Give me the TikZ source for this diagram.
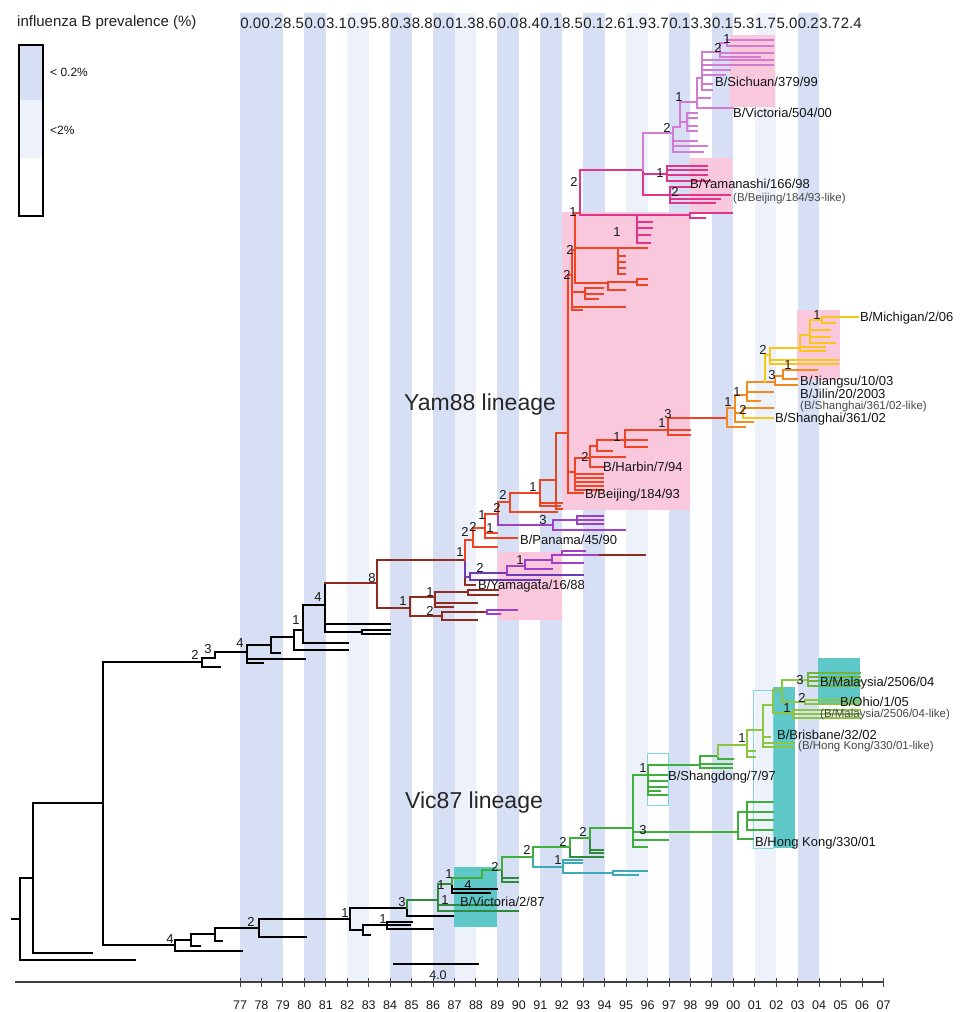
\documentclass[tikz,border=0pt]{standalone}
\usepackage{fontspec}
\setmainfont{Liberation Sans}
\definecolor{bandA}{HTML}{D6DFF3}
\definecolor{bandB}{HTML}{EDF1FA}
\definecolor{pinkbox}{HTML}{F9C8DD}
\definecolor{tealbox}{HTML}{5EC8C8}
\definecolor{tealline}{HTML}{7FD6DA}
\definecolor{brn}{HTML}{8E2A1E}
\definecolor{redo}{HTML}{EE4422}
\definecolor{mag}{HTML}{E0358C}
\definecolor{orch}{HTML}{D27BD0}
\definecolor{purp}{HTML}{A040C8}
\definecolor{viol}{HTML}{6A3CB8}
\definecolor{orng}{HTML}{F28A1E}
\definecolor{yelw}{HTML}{F6C619}
\definecolor{dgrn}{HTML}{2E8B3C}
\definecolor{mgrn}{HTML}{3FAF3C}
\definecolor{lgrn}{HTML}{8CC63F}
\definecolor{tealb}{HTML}{3DAAB5}
\tikzset{
  tb/.style={line width=2pt, line cap=rect},
  bs/.style={font=\fontsize{13}{13}\selectfont, text=black!90, inner sep=0pt},
  lbl/.style={font=\fontsize{13}{13}\selectfont, text=black!92, anchor=west, inner sep=0pt},
  sml/.style={font=\fontsize{11.5}{12}\selectfont, text=black!72, anchor=west, inner sep=0pt},
  yr/.style={font=\fontsize{12.5}{13}\selectfont, text=black!90, inner sep=0pt},
  prev/.style={font=\fontsize{15}{15}\selectfont, text=black!88, inner sep=0pt},
  lin/.style={font=\fontsize{23}{23}\selectfont, text=black!85, anchor=west, inner sep=0pt},
}
\newcommand\leaves[3]{\foreach \a/\b in {#3} {\draw[tb,#1] (#2) |- (\a,\b);}}
\begin{document}
\begin{tikzpicture}[x=1pt,y=-1pt]
\useasboundingbox (0,0) rectangle (967,1012);
% prevalence bands
\foreach \i in {0,1,3,7,9,12,14,16,20,22,26}
  \fill[bandA] ({240+21.45*\i},13) rectangle ++(21.45,969);
\foreach \i in {5,10,18,24}
  \fill[bandB] ({240+21.45*\i},13) rectangle ++(21.45,969);
\foreach \v [count=\i from 0] in {0.0,0.2,8.5,0.0,3.1,0.9,5.8,0.3,8.8,0.0,1.3,8.6,0.0,8.4,0.1,8.5,0.1,2.6,1.9,3.7,0.1,3.3,0.1,5.3,1.7,5.0,0.2,3.7,2.4}
  \node[prev] (p\i) at ({250.7+21.45*\i},23) {\v};
% legend
\node[prev, anchor=west] (legtitle) at (17,23) {influenza B prevalence (\%)};
\fill[bandA] (19,45) rectangle (43,100);
\fill[bandB] (19,100) rectangle (43,158);
\draw[line width=1.6pt] (19,45) rectangle (43,216);
\node[lbl, font=\fontsize{12}{12}\selectfont] (lega) at (50,72) {< 0.2\%};
\node[lbl, font=\fontsize{12}{12}\selectfont] (legb) at (50,130) {<2\%};
% clade boxes
\fill[pinkbox] (730,35) rectangle (775,107);
\fill[pinkbox] (690,158) rectangle (732,212);
\fill[pinkbox] (562,212) rectangle (690,510);
\fill[pinkbox] (797,310) rectangle (840,380);
\fill[pinkbox] (498,552) rectangle (562,620);
\fill[tealbox] (818,658) rectangle (860,703);
\fill[tealbox] (773,687) rectangle (795,848);
\fill[tealbox] (454,867) rectangle (497,927);
\draw[tealline, line width=0.8pt] (753,690) rectangle (773,848);
\draw[tealline, line width=0.8pt] (647,753) rectangle (668,805);
% root
\coordinate (root) at (20,919);
\draw[tb,black,line width=2.3pt] (12,919) -- (root);
\draw[tb,black,line width=2.3pt] (root) |- (135,960);
\draw[tb,black,line width=2.3pt] (root) |- (33,878) coordinate (r2);
\draw[tb,black,line width=2.3pt] (r2) |- (92,953);
\draw[tb,black,line width=2.3pt] (r2) |- (103,803) coordinate (r3);
\draw[tb,black,line width=2.3pt] (r3) |- (202,662) coordinate (y0);
\draw[tb,black,line width=2.3pt] (r3) |- (175,945) coordinate (v0);
% Vic87 lineage
\draw[tb,black] (v0) |- (242,951);
\draw[tb,black] (v0) |- (191,940) coordinate (v1);
\draw[tb,black] (v1) |- (200,946);
\draw[tb,black] (v1) |- (215,934) coordinate (v2);
\draw[tb,black] (v2) |- (222,941);
\draw[tb,black] (v2) |- (259,928) coordinate (v3);
\draw[tb,black] (v3) |- (306,937);
\draw[tb,black] (v3) |- (350,919) coordinate (v4);
\draw[tb,black] (v4) |- (407,908) coordinate (v5);
\draw[tb,black] (v4) |- (363,930) coordinate (v6);
\draw[tb,black] (v6) |- (370,935);
\draw[tb,black] (v6) |- (387,925) coordinate (v7);
\leaves{black}{v7}{433/929, 412/922, 410/925}
\draw[tb,black] (v5) |- (453,916);
\draw[tb,dgrn] (v5) |- (438,900) coordinate (g1);
\leaves{dgrn}{g1}{497/905, 518/911}
\draw[tb,dgrn] (g1) |- (452,884) coordinate (g2);
\leaves{black}{g2}{497/889, 490/893}
\draw[tb,mgrn] (g2) |- (482,878) coordinate (g3);
\draw[tb,mgrn] (g3) |- (502,870) coordinate (g4);
\leaves{dgrn}{g4}{518/878, 518/882}
\draw[tb,mgrn] (g4) |- (533,857) coordinate (g5);
\draw[tb,tealb] (g5) |- (563,867) coordinate (t1);
\leaves{tealb}{t1}{582/860, 582/863}
\draw[tb,tealb] (t1) |- (613,873) coordinate (t2);
\leaves{tealb}{t2}{647/871, 638/875}
\draw[tb,mgrn] (g5) |- (570,847) coordinate (g6);
\draw[tb,dgrn] (g6) |- (603,857);
\draw[tb,mgrn] (g6) |- (590,838) coordinate (g7);
\leaves{dgrn}{g7}{603/850, 603/853}
\draw[tb,mgrn] (g7) |- (633,828) coordinate (g8);
\leaves{mgrn}{g8}{668/840, 647/847}
\draw[tb,mgrn] (g8) |- (648,775) coordinate (sd);
\leaves{mgrn}{sd}{667/775, 667/781, 667/787, 660/791, 667/795}
\draw[tb,mgrn] (sd) |- (700,765) coordinate (s1);
\leaves{mgrn}{s1}{732/768, 732/764}
\draw[tb,mgrn] (s1) |- (718,756) coordinate (s2);
\leaves{mgrn}{s2}{733/759}
\draw[tb,lgrn] (s2) |- (747,745) coordinate (s3);
\leaves{lgrn}{s3}{755/751, 755/757}
\draw[tb,lgrn] (s3) |- (763,730) coordinate (s4);
\leaves{lgrn}{s4}{770/737, 793/743, 793/747}
\draw[tb,lgrn] (s4) |- (773,705) coordinate (s5);
\draw[tb,lgrn] (s5) |- (793,713) coordinate (s7);
\leaves{lgrn}{s7}{860/710, 860/714, 860/718}
\draw[tb,lgrn] (s5) |- (782,690) coordinate (s6);
\draw[tb,lgrn] (s6) |- (805,702) coordinate (s9);
\leaves{lgrn}{s9}{860/700, 860/704}
\draw[tb,lgrn] (s6) |- (808,680) coordinate (s8);
\leaves{lgrn!70!dgrn}{s8}{860/673, 860/677, 860/681, 860/686}
\draw[tb,mgrn] (g8) |- (738,832) coordinate (hk);
\draw[tb,mgrn] (hk) |- (753,839);
\draw[tb,mgrn] (hk) |- (747,812) coordinate (h1);
\leaves{mgrn}{h1}{773/802, 773/812, 773/820, 773/830}
% Yam88 lineage
\draw[tb,black] (y0) |- (220,667);
\draw[tb,black] (y0) |- (215,658) coordinate (y1);
\draw[tb,black] (y1) |- (247,652) coordinate (y2);
\leaves{black}{y2}{263/663, 305/659}
\draw[tb,black] (y2) |- (271,645) coordinate (y3);
\draw[tb,black] (y3) |- (280,653);
\draw[tb,black] (y3) |- (294,637) coordinate (y4);
\draw[tb,black] (y4) |- (348,650);
\draw[tb,black] (y4) |- (303,630) coordinate (y5);
\draw[tb,black] (y5) |- (348,643);
\draw[tb,black] (y5) |- (325,605) coordinate (y6);
\draw[tb,black] (y6) |- (390,624);
\draw[tb,black] (y6) |- (362,632) coordinate (y7);
\leaves{black}{y7}{390/630, 390/634}
\draw[tb,black] (y6) |- (325,583) coordinate (y6t);
\draw[tb,brn] (y6t) -- (377,583) coordinate (yb);
\draw[tb,brn] (yb) |- (410,608) coordinate (yl);
\draw[tb,brn] (yl) |- (435,597) coordinate (yl1);
\leaves{brn}{yl1}{477/603, 453/607}
\draw[tb,brn] (yl1) |- (468,592) coordinate (yl3);
\leaves{brn}{yl3}{498/590, 498/595}
\draw[tb,brn] (yl) |- (442,616) coordinate (yl2);
\leaves{brn}{yl2}{477/620}
\draw[tb,brn] (yl2) |- (487,612) coordinate (yl4);
\leaves{purp}{yl4}{517/610, 500/614}
\draw[tb,brn] (yb) |- (465,560) coordinate (yu);
\draw[tb,brn] (yu) |- (475,585);
\draw[tb,viol] (yu) |- (470,577) coordinate (yv);
\leaves{viol}{yv}{540/580}
\draw[tb,viol] (yv) |- (507,573) coordinate (yv1);
\leaves{viol}{yv1}{583/575}
\draw[tb,purp] (yv1) |- (525,566) coordinate (yv2);
\leaves{purp}{yv2}{552/569}
\draw[tb,purp] (yv2) |- (552,560) coordinate (yv3);
\leaves{purp}{yv3}{583/563}
\draw[tb,purp] (yv3) |- (562,555) coordinate (yv4);
\leaves{purp}{yv4}{600/555, 585/551}
\draw[tb,brn] (600,555) -- (645,555);
\draw[tb,redo] (yu) |- (473,540) coordinate (yr0);
\leaves{redo}{yr0}{497/547}
\draw[tb,redo] (yr0) |- (485,528) coordinate (yr1);
\leaves{redo}{yr1}{517/538, 497/533}
\draw[tb,redo] (yr1) |- (498,514) coordinate (yr2);
\draw[tb,purp] (yr2) |- (553,525) coordinate (yp);
\leaves{purp}{yp}{625/530}
\draw[tb,purp] (yp) |- (577,520) coordinate (yp1);
\leaves{purp}{yp1}{603/516, 603/520, 603/524}
\draw[tb,redo] (yr2) |- (510,502) coordinate (yr3);
\leaves{redo}{yr3}{557/512}
\draw[tb,redo] (yr3) |- (540,493) coordinate (yr4);
\leaves{redo}{yr4}{562/503, 560/506}
\draw[tb,redo] (yr4) |- (556,480) coordinate (yr5);
\leaves{redo}{yr5}{562/509}
\draw[tb,redo] (yr5) |- (568,433) coordinate (nA);
\leaves{redo}{nA}{583/493}
\draw[tb,redo] (nA) |- (575,472) coordinate (nH);
\leaves{redo}{nH}{603/474, 603/478, 603/482, 603/486, 603/490}
\draw[tb,redo] (nH) |- (590,458) coordinate (nH1);
\leaves{redo}{nH1}{603/467, 625/457}
\draw[tb,redo] (nH1) |- (597,446) coordinate (nH2);
\leaves{redo}{nH2}{612/451}
\draw[tb,redo] (nH2) |- (625,440) coordinate (nH3);
\leaves{redo}{nH3}{647/440, 647/447}
\draw[tb,redo] (nH3) |- (668,430) coordinate (nH4);
\leaves{redo}{nH4}{690/430, 690/435}
\draw[tb,redo] (nH4) |- (727,418) coordinate (sh0);
\leaves{orng}{sh0}{745/427}
\draw[tb,orng] (sh0) |- (735,408) coordinate (sh1);
\leaves{orng}{sh1}{753/422}
\draw[tb,orng] (sh1) |- (743,413) coordinate (sh2);
\leaves{orng}{sh2}{773/408}
\leaves{yelw}{sh2}{773/418}
\draw[tb,orng] (sh1) |- (747,395) coordinate (sh3);
\leaves{orng}{sh3}{773/392, 760/401}
\draw[tb,orng] (sh3) |- (765,382) coordinate (sh4);
\draw[tb,orng] (sh4) |- (775,382) coordinate (so);
\leaves{orng}{so}{797/385}
\draw[tb,orng] (so) |- (783,376) coordinate (so1);
\leaves{orng}{so1}{817/370, 797/379}
\draw[tb,yelw] (sh4) |- (770,355) coordinate (sy);
\leaves{yelw}{sy}{838/360, 838/364}
\draw[tb,yelw] (sy) |- (800,348) coordinate (sy1);
\leaves{yelw}{sy1}{825/347, 825/351}
\draw[tb,yelw] (sy1) |- (810,335) coordinate (sy2);
\leaves{yelw}{sy2}{830/330, 830/337, 835/343}
\draw[tb,yelw] (sy2) |- (822,320) coordinate (sy3);
\leaves{yelw}{sy3}{858/317, 835/323}
\draw[tb,redo] (nA) |- (572,275) coordinate (nB);
\leaves{redo}{nB}{625/307, 582/310}
\draw[tb,redo] (nB) |- (585,292) coordinate (nE);
\leaves{redo}{nE}{603/288, 603/294, 598/299}
\draw[tb,redo] (nB) |- (575,250) coordinate (nC);
\draw[tb,redo] (nC) |- (618,248) coordinate (nF);
\leaves{redo}{nF}{647/248, 625/256, 625/262, 625/268, 625/274}
\draw[tb,redo] (nC) |- (608,283) coordinate (nF2);
\leaves{redo}{nF2}{625/290}
\draw[tb,redo] (nF2) |- (637,282) coordinate (nF3);
\leaves{redo}{nF3}{647/279, 647/285}
\draw[tb,redo] (nC) |- (580,213) coordinate (nD);
\draw[tb,mag] (nD) |- (637,215) coordinate (nG);
\leaves{mag}{nG}{652/222, 652/228, 650/235, 650/243}
\draw[tb,mag] (nG) |- (690,215) coordinate (nG1);
\leaves{mag}{nG1}{732/213, 705/218}
\draw[tb,mag] (nD) |- (643,170) coordinate (nM);
\draw[tb,mag] (nM) |- (667,174) coordinate (nY1);
\leaves{mag}{nY1}{707/166, 707/170, 707/175, 710/181}
\draw[tb,mag] (nM) |- (670,195) coordinate (nY2);
\leaves{mag}{nY2}{690/187, 730/195, 720/199, 715/203}
\draw[tb,orch] (nM) |- (673,133) coordinate (nO);
\leaves{orch}{nO}{707/146, 703/152, 697/141}
\draw[tb,orch] (nO) |- (680,127) coordinate (nO1);
\draw[tb,orch] (nO1) |- (687,122) coordinate (nO3);
\leaves{orch}{nO3}{697/113, 697/118, 697/126, 697/131}
\draw[tb,orch] (nO1) |- (697,102) coordinate (nO2);
\leaves{orch}{nO2}{733/108, 710/98}
\draw[tb,orch] (nO2) |- (702,78) coordinate (nO4);
\leaves{orch}{nO4}{773/60, 773/65, 730/70, 725/75, 712/84, 712/90}
\draw[tb,orch] (nO4) |- (720,52) coordinate (nO5);
\leaves{orch}{nO5}{773/53, 760/57}
\draw[tb,orch] (nO5) |- (727,43) coordinate (nO6);
\leaves{orch}{nO6}{773/40, 773/46}
% bootstrap values
\foreach \x/\y/\t [count=\k] in {195/655/2, 208/649/3, 240/643/4, 296/620/1, 318/597/4,
  372/578/8, 403/601/1, 430/592/1, 430/611/2, 460/552/1, 465/532/2, 473/527/2,
  482/515/1, 490/528/1, 497/508/2, 503/495/2, 533/487/1, 543/520/3, 480/568/2,
  520/560/1, 573/212/1, 570/250/2, 567/275/2, 617/232/1, 585/457/2, 617/437/1,
  662/423/1, 668/414/3, 574/182/2, 660/173/1, 675/192/2, 667/128/2, 679/97/1,
  718/48/2, 727/39/1, 728/402/1, 743/410/2, 737/392/1, 772/375/3, 763/350/2,
  788/365/1, 817/315/1, 170/939/4, 251/922/2, 345/913/1, 383/919/1, 402/902/3,
  441/885/1, 449/874/1, 445/900/1, 468/885/4, 495/867/2, 527/850/2, 558/860/1,
  563/842/2, 583/832/2, 643/830/3, 643/768/1, 742/738/1, 787/708/1, 802/698/2,
  800/680/3}
  \node[bs] (b\k) at (\x,\y) {\t};
% strain labels
\node[lbl] (sichuan) at (715,82) {B/Sichuan/379/99};
\node[lbl] (victoria00) at (733,113) {B/Victoria/504/00};
\node[lbl] (yamanashi) at (690,184) {B/Yamanashi/166/98};
\node[sml] (beijinglike) at (733,199) {(B/Beijing/184/93-like)};
\node[lbl] (michigan) at (860,318) {B/Michigan/2/06};
\node[lbl] (jiangsu) at (800,382) {B/Jiangsu/10/03};
\node[lbl] (jilin) at (800,394) {B/Jilin/20/2003};
\node[sml] (shanghailike) at (800,407) {(B/Shanghai/361/02-like)};
\node[lbl] (shanghai) at (775,419) {B/Shanghai/361/02};
\node[lbl] (harbin) at (603,467) {B/Harbin/7/94};
\node[lbl] (beijing) at (585,495) {B/Beijing/184/93};
\node[lbl] (panama) at (520,540) {B/Panama/45/90};
\node[lbl] (yamagata) at (478,586) {B/Yamagata/16/88};
\node[lbl] (malaysia) at (820,683) {B/Malaysia/2506/04};
\node[lbl] (ohio) at (840,702) {B/Ohio/1/05};
\node[sml] (malaysialike) at (820,715) {(B/Malaysia/2506/04-like)};
\node[lbl] (brisbane) at (777,735) {B/Brisbane/32/02};
\node[sml] (hongkonglike) at (798,747) {(B/Hong Kong/330/01-like)};
\node[lbl] (shangdong) at (668,777) {B/Shangdong/7/97};
\node[lbl] (hongkong) at (755,843) {B/Hong Kong/330/01};
\node[lbl] (victoria87) at (460,902) {B/Victoria/2/87};
\node[lin] (yamlin) at (404,405) {Yam88 lineage};
\node[lin] (viclin) at (405,803) {Vic87 lineage};
% scale bar and time axis
\draw[line width=1.6pt] (393,964) coordinate (sb1) -- (479,964) coordinate (sb2);
\node[yr] (sbl) at (438,975) {4.0};
\draw[line width=1.2pt, black!75] (15,982) coordinate (ax1) -- (883,982) coordinate (ax2);
\foreach \i in {0,...,30}
  \draw[line width=1pt, black!75] ({240+21.45*\i},978) -- ++(0,9);
\foreach \t [count=\i from 0] in {77,78,...,99,00,01,02,03,04,05,06,07}
  \node[yr] (t\i) at ({240+21.45*\i},1005) {\t};
\end{tikzpicture}
\end{document}
